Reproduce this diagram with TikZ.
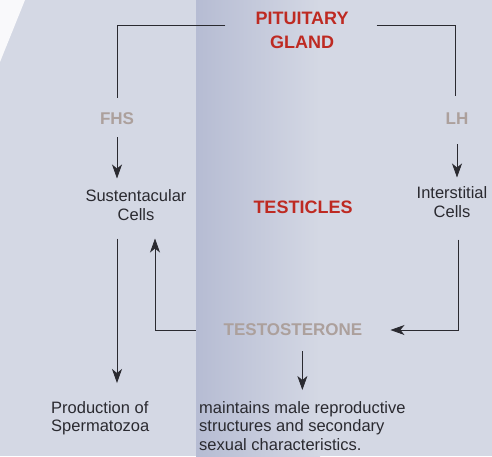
\documentclass[tikz,border=0pt]{standalone}
\usepackage{fontspec}
\setmainfont{Liberation Sans}
\usetikzlibrary{arrows.meta,calc,positioning}
\definecolor{glandred}{RGB}{190,42,34}
\definecolor{hormgrey}{RGB}{172,160,156}
\definecolor{inkdark}{RGB}{42,42,48}
\definecolor{paperblue}{RGB}{212,216,228}
\definecolor{foldblue}{RGB}{182,188,211}
\tikzset{
  wire/.style={inkdark,line width=0.8pt},
  flow/.style={wire,-{Stealth[length=14pt,width=10pt,inset=4pt]}},
  gap/.style 2 args={shorten <=#1,shorten >=#2},
  organ/.style={inner sep=0pt,align=center,text=glandred,
                font=\fontsize{18}{24}\selectfont\bfseries},
  hormone/.style={inner sep=0pt,align=center,text=hormgrey,
                  font=\fontsize{17}{20}\selectfont\bfseries},
  cellbox/.style={inner sep=0pt,align=center,text=inkdark,
                font=\fontsize{16.5}{18.5}\selectfont},
  effect/.style={inner sep=0pt,align=left,anchor=north west,text=inkdark,
                 font=\fontsize{16.5}{18.5}\selectfont},
}
\begin{document}
\begin{tikzpicture}[x=1pt,y=-1pt]
  \useasboundingbox (0,0) rectangle (492,456);
  % paper and fold
  \fill[paperblue] (0,0) rectangle (492,456);
  \fill[white!85!paperblue] (0,0) -- (25,0) -- (0,62) -- cycle;
  \shade[left color=foldblue,right color=paperblue] (196,0) rectangle (320,456);

  \node[organ] (pit) at (302,30) {PITUITARY\\GLAND};
  \node[hormone] (fhs) at (117,119) {FHS};
  \node[hormone] (lh) at (457,119) {LH};
  \node[cellbox] (sust) at (136,205) {Sustentacular\\Cells};
  \node[organ] (test) at (303,207) {TESTICLES};
  \node[cellbox] (inter) at (452,202) {Interstitial\\Cells};
  \node[hormone] (tst) at (293,330) {TESTOSTERONE};
  \node[effect] (prod) at (51,401) {Production of\\Spermatozoa};
  \node[effect] (maint) at (199,401)
    {maintains male reproductive\\structures and secondary\\sexual characteristics.};

  \draw[wire,gap={30pt}{15pt}] ([yshift=5pt]pit.west) -| (fhs.north);
  \draw[wire,gap={28pt}{17pt}] ([yshift=5pt]pit.east) -| ([xshift=-2pt]lh.north);
  \draw[flow,gap={12pt}{11pt}] (fhs.south) -- (fhs.south |- sust.north);
  \draw[flow,gap={19pt}{9pt}] (lh.south) -- (lh.south |- inter.north);
  \draw[flow,gap={18pt}{18pt}] (fhs.south |- sust.south) -- (fhs.south |- prod.north);
  \draw[flow,gap={28pt}{18pt}] (tst.west) -| ([xshift=19pt]sust.south);
  \draw[flow,gap={22pt}{28pt}] ([xshift=6pt]inter.south) |- (tst.east);
  \draw[flow,gap={15pt}{11pt}] (maint.north |- tst.south) -- (maint.north);
\end{tikzpicture}
\end{document}
